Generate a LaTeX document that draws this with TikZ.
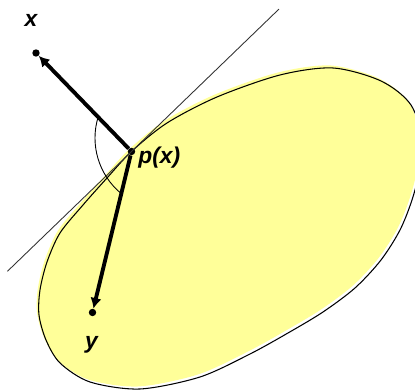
\documentclass[tikz,border=0pt]{standalone}
\usepackage{fontspec}
\setmainfont{Liberation Sans}
\usepackage{xcolor}
\usepackage{tikz}
\usetikzlibrary{
  arrows.meta,
  calc
}
\definecolor{blobyellow}{RGB}{255,255,153}

\begin{document}
\begin{tikzpicture}[
  font=\fontsize{13}{15}\selectfont\bfseries\itshape,
  pt/.style={circle, fill=black, inner sep=0pt, minimum size=4.2pt},
  vec/.style={-{Latex[length=6pt, width=6.5pt]}, line width=2.2pt},
  lbl/.style={inner sep=0pt}
]
  \useasboundingbox (0,0) rectangle (8.3,7.8);
  % region
  \draw[line width=0.6pt, preaction={fill=blobyellow, transform canvas={xshift=-0.04cm, yshift=0.05cm}}]
    plot[smooth cycle] coordinates {
      (2.63,4.77) (3.34,5.34) (4.34,5.86) (5.60,6.30) (6.66,6.44)
      (7.62,6.18) (8.22,5.70) (8.46,4.90) (8.30,4.00) (8.02,3.24)
      (7.62,2.60) (7.10,2.04) (6.46,1.56) (5.76,1.14) (5.00,0.72)
      (4.00,0.26) (2.80,0.02) (1.80,0.16) (1.20,0.54) (0.92,1.00)
      (0.78,1.50) (0.80,2.00) (0.94,2.56) (1.20,3.14) (1.66,3.70)
      (2.14,4.24)};
  % points
  \node[pt] (p) at (2.63,4.77) {};
  \node[pt] (xpt) at (0.72,6.74) {};
  \node[pt] (ypt) at (1.85,1.55) {};
  % tangent
  \coordinate (tlo) at ($(p)+(224:3.45)$);
  \coordinate (thi) at ($(p)+(44:4.1)$);
  \draw[line width=0.5pt, black!80] (tlo) -- (thi);
  % angle
  \coordinate (ac) at (3.34,5.04);
  \draw[line width=0.5pt] ($(ac)+(163:1.44)$) arc[start angle=163, end angle=230, radius=1.44];
  \draw[vec] (p) -- (xpt);
  \draw[vec] (p) -- (ypt);
  % labels
  \node[lbl] (xlbl) at (0.62,7.40) {x};
  \node[lbl, anchor=west] (plbl) at (2.76,4.64) {p(x)};
  \node[lbl] (ylbl) at (1.83,0.90) {y};
\end{tikzpicture}
\end{document}
